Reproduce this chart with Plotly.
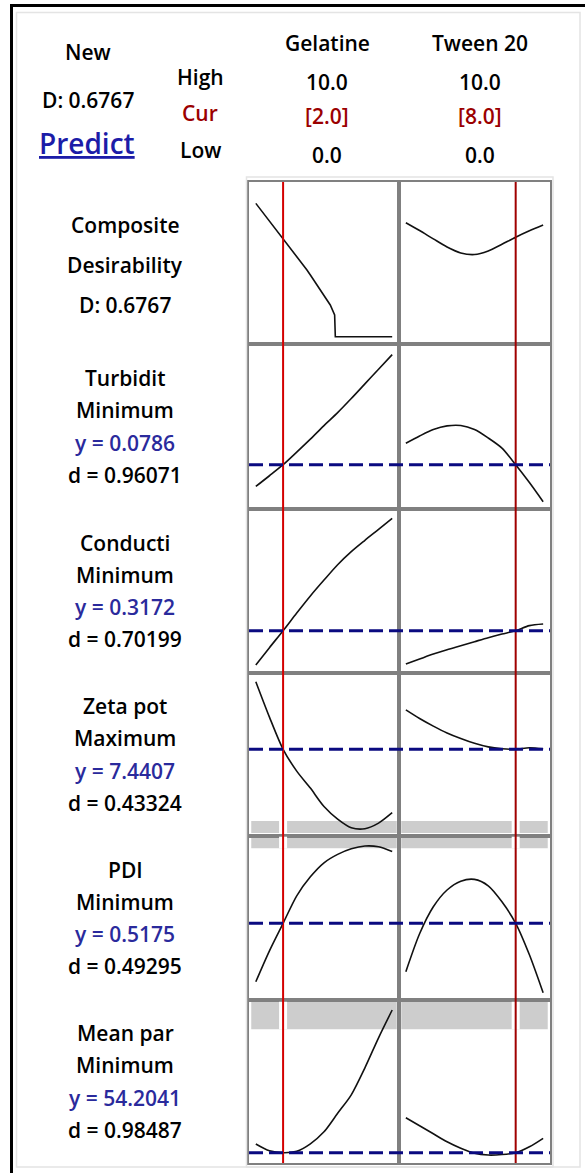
import plotly.graph_objects as go

W, H = 585, 1173

# ---------------- data ----------------
factors = ["Gelatine", "Tween 20"]
factor_high = ["10.0", "10.0"]
factor_cur = [2.0, 8.0]
factor_low = ["0.0", "0.0"]

x_levels = [0, 1, 2, 3, 4, 5, 6, 7, 8, 9, 10]

# Composite desirability
comp_gel_x = [0, 1, 2, 3, 3.75, 4, 4.73, 5, 5.46, 5.78, 5.83, 10]
comp_gel = [0.917, 0.797, 0.677, 0.553, 0.459, 0.424, 0.321, 0.283, 0.218, 0.149, 0.0, 0.0]
comp_tween = [0.784, 0.730, 0.673, 0.617, 0.576, 0.565, 0.590, 0.636, 0.684, 0.728, 0.768]

# Turbidity
turb_gel = [0.040, 0.059, 0.0786, 0.101, 0.124, 0.148, 0.171, 0.196, 0.222, 0.248, 0.274]
turb_tween = [0.1166, 0.1295, 0.1410, 0.1475, 0.1482, 0.1410, 0.1260, 0.1080, 0.0786, 0.0470, 0.0130]

# Conductivity
cond_gel = [0.060, 0.190, 0.3172, 0.450, 0.578, 0.697, 0.812, 0.910, 0.995, 1.077, 1.160]
cond_tween = [0.0675, 0.105, 0.142, 0.175, 0.205, 0.235, 0.265, 0.292, 0.3172, 0.355, 0.367]

# Zeta potential
zeta_gel = [10.82, 9.05, 7.4407, 6.35, 5.50, 4.58, 3.95, 3.52, 3.47, 3.75, 4.27]
zeta_tween = [9.41, 8.98, 8.60, 8.26, 7.98, 7.74, 7.56, 7.47, 7.4407, 7.52, 7.46]

# PDI
pdi_gel = [0.2255, 0.380, 0.5175, 0.655, 0.750, 0.820, 0.862, 0.890, 0.904, 0.900, 0.876]
pdi_tween = [0.2755, 0.465, 0.600, 0.684, 0.728, 0.737, 0.705, 0.625, 0.5175, 0.360, 0.170]

# Mean particle size
mean_gel = [71.6, 58.0, 54.2041, 57.0, 72.0, 96.0, 133.0, 170.0, 224.0, 284.0, 339.6]
mean_tween = [124.0, 108.0, 92.0, 76.0, 63.0, 53.0, 49.5, 50.5, 54.2041, 66.0, 83.0]

responses = ["Composite", "Turbidit", "Conducti", "Zeta pot", "PDI", "Mean par"]
goals = ["Desirability", "Minimum", "Minimum", "Maximum", "Minimum", "Minimum"]
pred_y = [None, "0.0786", "0.3172", "7.4407", "0.5175", "54.2041"]
pred_y_val = [None, 0.0786, 0.3172, 7.4407, 0.5175, 54.2041]
desir_d = ["0.6767", "0.96071", "0.70199", "0.43324", "0.49295", "0.98487"]
composite_D = "0.6767"

# shaded bands (response units)
bands = [None, None, None, (3.256, 3.856), (0.8925, 0.9505), (301.0, 356.0)]

gel_series = [(comp_gel_x, comp_gel), (x_levels, turb_gel), (x_levels, cond_gel),
              (x_levels, zeta_gel), (x_levels, pdi_gel), (x_levels, mean_gel)]
tween_series = [(x_levels, comp_tween), (x_levels, turb_tween), (x_levels, cond_tween),
                (x_levels, zeta_tween), (x_levels, pdi_tween), (x_levels, mean_tween)]

# ---------------- layout constants ----------------
row_edges = [182, 344, 509, 673, 836, 1000, 1163]
col_edges = [249, 399, 550]
y_ranges = [(-0.0502, 1.064), (0.0, 0.29279), (0.0, 1.2296),
            (3.1057, 11.2557), (0.134, 0.954), (33.604, 359.604)]
x_range = [-0.5, 10.5]

FONT = "Open Sans"
BLUE_TXT = "#2a2a9c"
RED_TXT = "#9b0000"
FRAME = "#808080"


def px(x):
    return x / W


def py(y):
    return 1 - y / H


fig = go.Figure()
layout = dict(width=W, height=H, margin=dict(l=0, r=0, t=0, b=0),
              paper_bgcolor="white", plot_bgcolor="white", showlegend=False)

shapes = []
annotations = []

for r in range(6):
    for c in range(2):
        idx = r * 2 + c + 1
        sfx = "" if idx == 1 else str(idx)
        layout["xaxis" + sfx] = dict(
            domain=[px(col_edges[c]), px(col_edges[c + 1])], range=x_range,
            anchor="y" + sfx, showline=True, mirror=True, linecolor=FRAME, linewidth=1.6,
            showticklabels=False, ticks="", showgrid=False, zeroline=False, fixedrange=True)
        layout["yaxis" + sfx] = dict(
            domain=[py(row_edges[r + 1]), py(row_edges[r])], range=list(y_ranges[r]),
            anchor="x" + sfx, showline=True, mirror=True, linecolor=FRAME, linewidth=1.6,
            showticklabels=False, ticks="", showgrid=False, zeroline=False, fixedrange=True)
        xs, ys = (gel_series if c == 0 else tween_series)[r]
        shape_mode = "linear" if (r == 0 and c == 0) else "spline"
        fig.add_trace(go.Scatter(x=xs, y=ys, mode="lines", xaxis="x" + sfx, yaxis="y" + sfx,
                                 line=dict(color="#111111", width=1.6, shape=shape_mode,
                                           smoothing=0.8), hoverinfo="skip"))
        if bands[r] is not None:
            lo, hi = bands[r]
            shapes.append(dict(type="rect", xref="x" + sfx + " domain", yref="y" + sfx,
                               x0=0.015, x1=0.985, y0=lo, y1=hi, fillcolor="#cdcdcd",
                               line=dict(width=0), layer="below"))
            shapes.append(dict(type="line", xref="x" + sfx, yref="y" + sfx,
                               x0=factor_cur[c], x1=factor_cur[c], y0=lo, y1=hi,
                               line=dict(color="white", width=8), layer="below"))

# red cursor lines
red_cols = ["#d40000", "#a00000"]
for c in range(2):
    sfx = "" if c == 0 else "2"
    shapes.append(dict(type="line", xref="x" + sfx, yref="paper",
                       x0=factor_cur[c], x1=factor_cur[c],
                       y0=py(row_edges[-1]), y1=py(row_edges[0]),
                       line=dict(color=red_cols[c], width=2)))

# predicted response dashed lines
for r in range(1, 6):
    sfx = str(r * 2 + 1)
    shapes.append(dict(type="line", xref="paper", yref="y" + sfx,
                       x0=px(col_edges[0]), x1=px(col_edges[2]),
                       y0=pred_y_val[r], y1=pred_y_val[r],
                       line=dict(color="#0a0a80", width=3, dash="14px,6px")))

# frames / borders
shapes.append(dict(type="rect", xref="paper", yref="paper", x0=px(16.5), x1=px(580),
                   y0=py(1167), y1=py(12.5), line=dict(color="#e4e4e4", width=1.5)))
shapes.append(dict(type="rect", xref="paper", yref="paper", x0=px(246.5), x1=px(553),
                   y0=py(1167), y1=py(177), line=dict(color="#e4e4e4", width=1.5)))
shapes.append(dict(type="rect", xref="paper", yref="paper", x0=px(10), x1=px(13),
                   y0=py(1173), y1=py(4), fillcolor="black", line=dict(width=0)))
shapes.append(dict(type="rect", xref="paper", yref="paper", x0=px(10), x1=px(585),
                   y0=py(7), y1=py(4), fillcolor="black", line=dict(width=0)))


def txt(s, x, y, color="black", size=21, weight=600):
    annotations.append(dict(text=s, x=px(x), y=py(y), xref="paper", yref="paper",
                            xanchor="center", yanchor="middle", showarrow=False,
                            font=dict(family=FONT, size=size, color=color, weight=weight)))


# header
txt("New", 88, 52)
txt("D: " + composite_D, 88, 100)
txt("<u>Predict</u>", 87, 143, color="#1c1ca8", size=28)
txt("High", 200, 77)
txt("Cur", 200, 113, color=RED_TXT)
txt("Low", 200, 150)
col_cx = [327, 480]
for c in range(2):
    txt(factors[c], col_cx[c], 43)
    txt(factor_high[c], col_cx[c], 82)
    txt("[%.1f]" % factor_cur[c], col_cx[c], 116, color=RED_TXT)
    txt(factor_low[c], col_cx[c], 155)

# left labels
LX = 125
txt("Composite", LX, 225)
txt("Desirability", LX, 265)
txt("D: " + composite_D, LX, 305)
line_sp = 32.3
for r in range(1, 6):
    cy = (row_edges[r] + row_edges[r + 1]) / 2
    ys_ = [cy - 1.5 * line_sp, cy - 0.5 * line_sp, cy + 0.5 * line_sp, cy + 1.5 * line_sp]
    txt(responses[r], LX, ys_[0])
    txt(goals[r], LX, ys_[1])
    txt("y = " + pred_y[r], LX, ys_[2], color=BLUE_TXT)
    txt("d = " + desir_d[r], LX, ys_[3])

layout["shapes"] = shapes
layout["annotations"] = annotations
fig.update_layout(**layout)
fig.write_html("out.html")
